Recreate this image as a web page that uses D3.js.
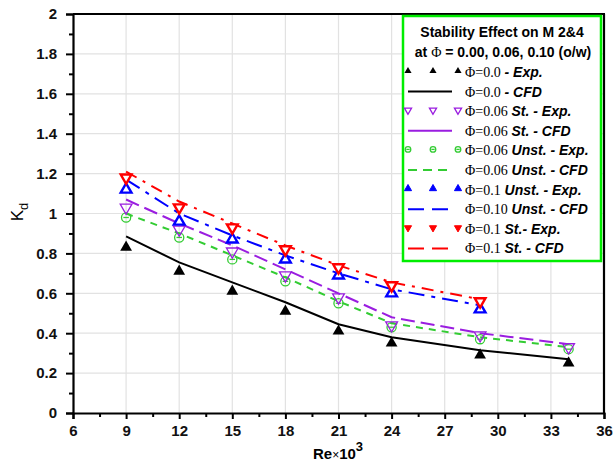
<!DOCTYPE html>
<html>
<head>
<meta charset="utf-8">
<script src="https://cdn.jsdelivr.net/npm/d3@7"></script>
<style>
  body { margin: 0; background: #fff; }
  text { font-family: "Liberation Sans", Arial, sans-serif; }
</style>
</head>
<body>
<svg id="svg" width="615" height="464"></svg>
<script>
// chart data
const reExp = [9, 12, 15, 18, 21, 24, 29, 34];
const reShort = [9, 12, 15, 18, 21, 24, 29];

const phi0Exp = [0.83, 0.71, 0.61, 0.51, 0.41, 0.35, 0.29, 0.25];
const phi0Cfd = [0.885, 0.755, 0.655, 0.555, 0.445, 0.38, 0.315, 0.27];
const phi06StExp = [1.03, 0.92, 0.81, 0.69, 0.58, 0.44, 0.39, 0.33];
const phi06StCfd = [1.07, 0.95, 0.84, 0.72, 0.60, 0.48, 0.40, 0.345];
const phi06UnExp = [0.98, 0.88, 0.77, 0.66, 0.55, 0.43, 0.37, 0.32];
const phi06UnCfd = [1.00, 0.90, 0.79, 0.68, 0.56, 0.45, 0.38, 0.33];
const phi1UnExp = [1.12, 0.96, 0.87, 0.77, 0.69, 0.60, 0.52];
const phi1UnCfd = [1.17, 1.00, 0.89, 0.79, 0.70, 0.62, 0.54];
const phi1StExp = [1.18, 1.03, 0.93, 0.82, 0.73, 0.64, 0.56];
const phi1StCfd = [1.21, 1.06, 0.95, 0.84, 0.74, 0.655, 0.57];

const xTicks = [6, 9, 12, 15, 18, 21, 24, 27, 30, 33, 36];
const yTicks = [0, 0.2, 0.4, 0.6, 0.8, 1, 1.2, 1.4, 1.6, 1.8, 2];

const svg = d3.select("#svg");
const mLeft = 73, mRight = 604, mTop = 14, mBottom = 413;

const x = d3.scaleLinear().domain([6, 36]).range([mLeft, mRight]);
const y = d3.scaleLinear().domain([0, 2]).range([mBottom, mTop]);

// grid
svg.append("g").selectAll("line").data(xTicks.slice(1, -1)).join("line")
  .attr("x1", d => x(d)).attr("x2", d => x(d))
  .attr("y1", mTop).attr("y2", mBottom)
  .attr("stroke", "#e2e2e2").attr("stroke-width", 1.2);
svg.append("g").selectAll("line").data(yTicks.slice(1, -1)).join("line")
  .attr("y1", d => y(d)).attr("y2", d => y(d))
  .attr("x1", mLeft).attr("x2", mRight)
  .attr("stroke", "#e2e2e2").attr("stroke-width", 1.2);

// axes
svg.append("g").attr("transform", `translate(0,${mBottom})`)
  .call(d3.axisBottom(x).tickValues(xTicks).tickSize(6).tickPadding(6).tickFormat(d3.format("d")));
svg.append("g").attr("transform", `translate(0,${mBottom})`)
  .call(d3.axisBottom(x).tickValues(d3.range(7.5, 36, 3)).tickSize(4).tickFormat(""))
  .call(g => g.select(".domain").remove());
svg.append("g").attr("transform", `translate(${mLeft},0)`)
  .call(d3.axisLeft(y).tickValues(yTicks).tickSize(7).tickPadding(9).tickFormat(d => String(+d.toFixed(1))));
svg.append("g").attr("transform", `translate(${mLeft},0)`)
  .call(d3.axisLeft(y).tickValues(d3.range(0.1, 2, 0.2)).tickSize(4).tickFormat(""))
  .call(g => g.select(".domain").remove());

svg.selectAll(".tick line").attr("stroke", "#000").attr("stroke-width", 2);
svg.selectAll(".domain").attr("stroke", "#000").attr("stroke-width", 2.2);
svg.selectAll(".tick text").attr("font-size", 15).attr("font-weight", "bold").attr("fill", "#111")
  .style("font-family", "'Liberation Sans', Arial, sans-serif");

// frame top and right
svg.append("line").attr("x1", mLeft).attr("x2", mRight + 1).attr("y1", mTop).attr("y2", mTop)
  .attr("stroke", "#000").attr("stroke-width", 2.2);
svg.append("line").attr("x1", mRight).attr("x2", mRight).attr("y1", mTop).attr("y2", mBottom)
  .attr("stroke", "#000").attr("stroke-width", 2.2);

// axis titles
const xl = svg.append("text").attr("x", 338).attr("y", 459).attr("text-anchor", "middle")
  .attr("font-size", 15).attr("font-weight", "bold");
xl.append("tspan").text("Re");
xl.append("tspan").attr("font-weight", "normal").attr("font-size", 12).text("×");
xl.append("tspan").text("10");
xl.append("tspan").attr("dy", -8).attr("font-size", 13).text("3");

const yl = svg.append("text").attr("transform", "translate(23,212) rotate(-90)")
  .attr("text-anchor", "middle").attr("font-size", 17);
yl.append("tspan").text("K");
yl.append("tspan").attr("dy", 5).attr("font-size", 13).text("d");

// series definitions
const series = [
  {xs: reExp, ys: phi0Cfd, color: "#000", dash: null, width: 2},
  {xs: reExp, ys: phi06UnCfd, color: "#33cc33", dash: "7,6", width: 2},
  {xs: reExp, ys: phi06StCfd, color: "#9a1de0", dash: "14,6", width: 2},
  {xs: reShort, ys: phi1UnCfd, color: "#0000ff", dash: "16,7,4,7", width: 2},
  {xs: reShort, ys: phi1StCfd, color: "#ff0000", dash: "12,7,3,7", width: 2}
];

const line = d3.line().x(d => x(d[0])).y(d => y(d[1]));
series.forEach(s => {
  svg.append("path")
    .datum(d3.zip(s.xs, s.ys))
    .attr("fill", "none")
    .attr("stroke", s.color)
    .attr("stroke-width", s.width)
    .attr("stroke-dasharray", s.dash)
    .attr("d", line);
});

// marker drawing
const triUp = d3.symbol().type(d3.symbolTriangle);
function marker(g, kind, cx, cy, size, solid) {
  if (kind === "blackUp") {
    g.append("path").attr("d", triUp.size(size)()).attr("transform", `translate(${cx},${cy})`)
      .attr("fill", "#000");
  } else if (kind === "purpleDown") {
    g.append("path").attr("d", triUp.size(size)()).attr("transform", `translate(${cx},${cy}) rotate(180)`)
      .attr("fill", "none").attr("stroke", "#9a1de0").attr("stroke-width", 1.3);
  } else if (kind === "greenCircle") {
    const r = Math.sqrt(size / Math.PI) * 1.05;
    g.append("circle").attr("cx", cx).attr("cy", cy).attr("r", r)
      .attr("fill", "none").attr("stroke", "#33cc33").attr("stroke-width", 1.3);
    g.append("line").attr("x1", cx - r * 0.6).attr("x2", cx + r * 0.6).attr("y1", cy).attr("y2", cy)
      .attr("stroke", "#33cc33").attr("stroke-width", 1.3);
  } else if (kind === "blueUp") {
    g.append("path").attr("d", triUp.size(size)()).attr("transform", `translate(${cx},${cy})`)
      .attr("fill", solid ? "#0000ff" : "#fff").attr("stroke", "#0000ff").attr("stroke-width", solid ? 1 : 2.4);
  } else if (kind === "redDown") {
    g.append("path").attr("d", triUp.size(size)()).attr("transform", `translate(${cx},${cy}) rotate(180)`)
      .attr("fill", solid ? "#ff0000" : "#fff").attr("stroke", "#ff0000").attr("stroke-width", solid ? 1 : 2.4);
  }
}

const points = [
  {xs: reExp, ys: phi06UnExp, kind: "greenCircle", size: 60},
  {xs: reExp, ys: phi06StExp, kind: "purpleDown", size: 60},
  {xs: reShort, ys: phi1UnExp, kind: "blueUp", size: 50},
  {xs: reShort, ys: phi1StExp, kind: "redDown", size: 50},
  {xs: reExp, ys: phi0Exp, kind: "blackUp", size: 60}
];
const pg = svg.append("g");
points.forEach(p => {
  p.xs.forEach((xv, i) => marker(pg, p.kind, x(xv), y(p.ys[i]), p.size, false));
});

// legend
const lg = svg.append("g");
lg.append("rect").attr("x", 403).attr("y", 16).attr("width", 198).attr("height", 245)
  .attr("fill", "#fff").attr("stroke", "#00ee00").attr("stroke-width", 2.5);
lg.append("text").attr("x", 502).attr("y", 37).attr("text-anchor", "middle")
  .attr("font-size", 14).attr("font-weight", "bold").text("Stability Effect on M 2&4");
const t2 = lg.append("text").attr("x", 503).attr("y", 57).attr("text-anchor", "middle")
  .attr("font-size", 14).attr("font-weight", "bold");
t2.append("tspan").text("at ");
t2.append("tspan").attr("font-weight", "normal").style("font-family", "'Liberation Serif', serif").text("Φ");
t2.append("tspan").text(" = 0.00, 0.06, 0.10 (o/w)");

const legendPhi = ["Φ=0.0", "Φ=0.0", "Φ=0.06", "Φ=0.06", "Φ=0.06", "Φ=0.06", "Φ=0.1", "Φ=0.10", "Φ=0.1", "Φ=0.1"];
const legendTail = [" - Exp.", " - CFD", " St. - Exp.", " St. - CFD", " Unst. - Exp.", " Unst. - CFD",
  " Unst. - Exp.", " Unst. - CFD", "  St.- Exp.", " St. - CFD"];
const legendMark = ["blackUp", 0, "purpleDown", 2, "greenCircle", 1, "blueUp", 3, "redDown", 4];

legendPhi.forEach((phi, i) => {
  const ly = 72 + i * 19.6;
  const m = legendMark[i];
  if (typeof m === "string") {
    [408, 433, 458].forEach(mx => marker(lg, m, mx, ly - 1, 22, true));
  } else {
    const s = series[m];
    lg.append("line").attr("x1", 408).attr("x2", 452).attr("y1", ly).attr("y2", ly)
      .attr("stroke", s.color).attr("stroke-width", 2)
      .attr("stroke-dasharray", m === 0 ? null : (m === 1 ? "9,6" : (m === 2 ? null : "16,8")));
  }
  const t = lg.append("text").attr("x", 465).attr("y", ly + 5).attr("font-size", 14);
  t.append("tspan").style("font-family", "'Liberation Serif', serif").text(phi);
  t.append("tspan").attr("font-weight", "bold").attr("font-style", "italic").text(legendTail[i]);
});
</script>
</body>
</html>
